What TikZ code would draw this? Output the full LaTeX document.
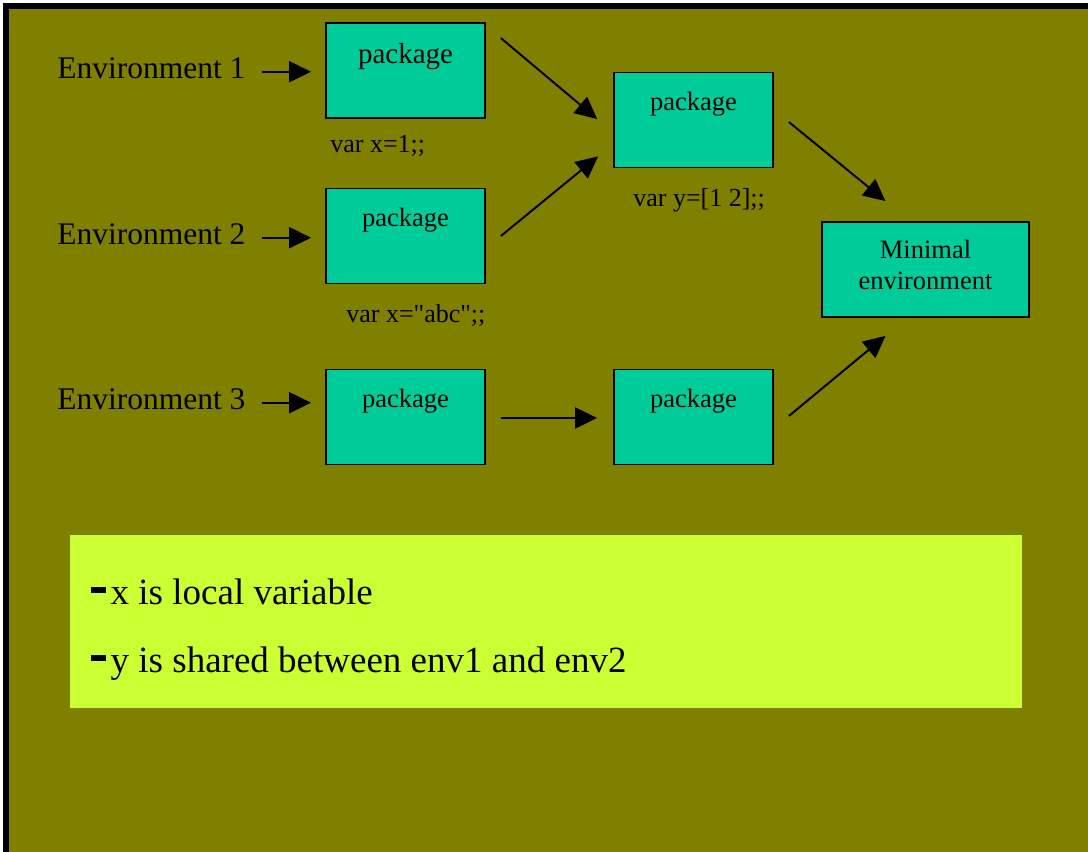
\documentclass[tikz,border=0pt]{standalone}
\usepackage{fontspec}
\setmainfont{Liberation Serif}
\usepackage{tikz}
\usetikzlibrary{calc,arrows.meta}
\definecolor{slideolive}{RGB}{128,128,0}
\definecolor{pkgteal}{RGB}{0,204,153}
\definecolor{notelime}{RGB}{204,255,51}
\newcommand\notebar{\rule[12pt]{15pt}{5.4pt}\hspace{4.7pt}}
\tikzset{
    pkg/.style={
        draw,
        line width=1.8pt,
        fill=pkgteal,
        minimum width=159pt,
        minimum height=95pt,
        inner sep=0pt
    },
    pkgtext/.style={
        anchor=north,
        inner sep=0pt,
        font=\fontsize{26.5}{30.6}\selectfont
    },
    envlabel/.style={
        anchor=base west,
        inner sep=0pt,
        font=\fontsize{31.5}{36}\selectfont
    },
    varline/.style={
        anchor=base west,
        inner sep=0pt,
        font=\fontsize{26}{30}\selectfont
    },
    noteline/.style={
        anchor=base west,
        inner sep=0pt,
        font=\fontsize{37}{44}\selectfont
    },
    flow/.style={
        line width=2pt,
        -{Triangle[length=22pt,width=21pt]}
    }
}

\begin{document}
\begin{tikzpicture}[x=1pt,y=1pt]

    % slide background
    \fill[white] (0,0) rectangle (1088,852);
    \fill[slideolive] (3,0) rectangle (1088,849);
    \fill[black] (3,0) rectangle (9,849);
    \fill[black] (3,843) rectangle (1088,849);
    \useasboundingbox (0,0) rectangle (1088,852);

    %% first column of packages
    \node (P1) [pkg] at (405.5,781.5) {};
    \node (P1t) [pkgtext,font=\fontsize{29}{34}\selectfont] at ($(P1.north)+(0,-21)$) {package};
    \node (V1) [varline] at ($(P1.south west)+(5,-34)$) {var x=1;;};

    \node (P2) [pkg] at (405.5,616) {};
    \node (P2t) [pkgtext] at ($(P2.north)+(0,-20)$) {package};
    \node (V2) [varline] at ($(P2.south west)+(21,-38)$) {var x=\textquotedbl abc\textquotedbl;;};

    \node (P3) [pkg] at (405.5,435) {};
    \node (P3t) [pkgtext] at ($(P3.north)+(0,-20)$) {package};

    %% second column
    \node (P4) [pkg] at (693.5,732) {};
    \node (P4t) [pkgtext] at ($(P4.north)+(0,-20)$) {package};
    \node (V3) [varline] at ($(P4.south west)+(20,-38)$) {var y=[1 2];;};

    \node (P5) [pkg] at (693.5,435) {};
    \node (P5t) [pkgtext] at ($(P5.north)+(0,-20)$) {package};

    %% minimal environment
    \node (M) [pkg,minimum width=207pt] at (925.5,582.5) {};
    \node (Mt) [pkgtext,align=center] at ($(M.north)+(0,-19)$) {Minimal\\environment};

    %% environments
    \node (E1) [envlabel] at ($(P1.west)+(-268,-8.5)$) {Environment 1};
    \node (E2) [envlabel] at ($(P2.west)+(-268,-9)$) {Environment 2};
    \node (E3) [envlabel] at ($(P3.west)+(-268,7)$) {Environment 3};

    \draw[flow,shorten <=16pt,shorten >=14pt] ($(E1.east)+(0,-3)$) -- ($(E1.east -| P1.west)+(0,-3)$);
    \draw[flow,shorten <=16pt,shorten >=14pt] ($(E2.east)+(0,-3)$) -- ($(E2.east -| P2.west)+(0,-3)$);
    \draw[flow,shorten <=16pt,shorten >=14pt] ($(E3.east)+(0,-3)$) -- ($(E3.east -| P3.west)+(0,-3)$);

    %% package flow
    \draw[flow] ($(P1.north east)+(15,-16)$) -- ($(P4.west)+(-16,1)$);
    \draw[flow] ($(P2.east)+(15,0)$) -- ($(P4.south west)+(-15,12)$);
    \draw[flow] ($(P3.east)+(15,-1)$) -- ($(P5.west)+(-16,-1)$);
    \draw[flow] ($(P4.east)+(15,-2)$) -- ($(M.north)+(-40,20)$);
    \draw[flow] ($(P5.east)+(15,1)$) -- ($(M.south)+(-40,-18)$);

    %% notes
    \node (N) [fill=notelime,minimum width=952pt,minimum height=173pt,inner sep=0pt] at (546,230.5) {};
    \node (N1) [noteline] at ($(N.north west)+(21,-70)$) {\notebar x is local variable};
    \node (N2) [noteline] at ($(N.north west)+(21,-138)$) {\notebar y is shared between env1 and env2};

\end{tikzpicture}
\end{document}
